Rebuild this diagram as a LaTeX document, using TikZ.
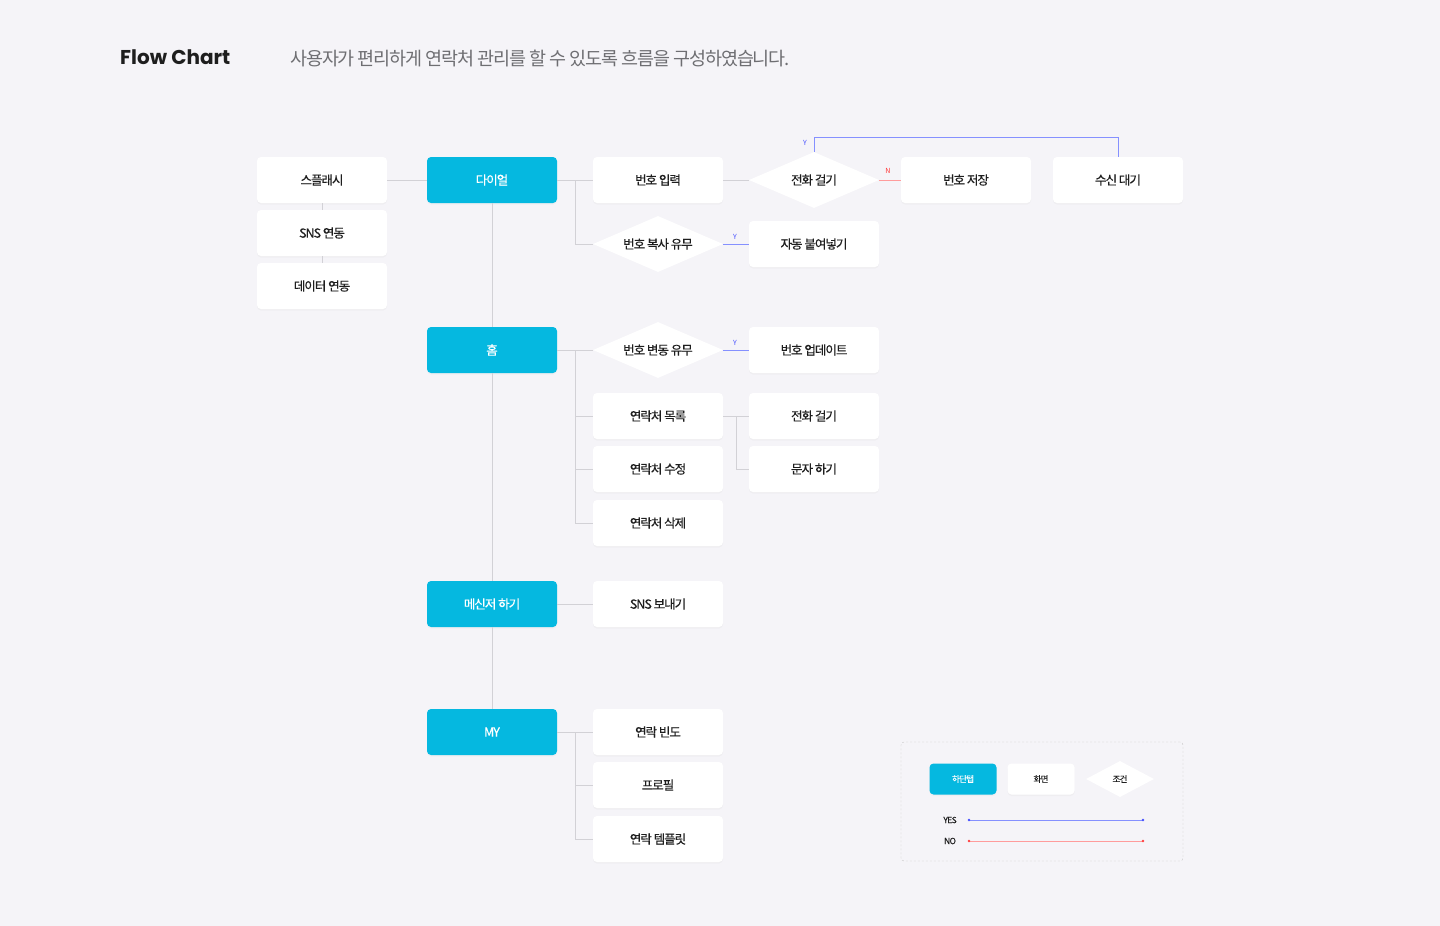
\documentclass[tikz,border=0pt]{standalone}
\usepackage{fontspec}
\setmainfont{Noto Sans CJK KR}[LetterSpace=-8]
\newfontfamily\medfont{Noto Sans CJK KR}[LetterSpace=-8, FakeBold=0.4]
\newfontfamily\subfont{Noto Sans CJK KR}[LetterSpace=-6]
\newfontfamily\titlefont{Poppins}
\usetikzlibrary{shapes.geometric,shadows}
\definecolor{bg}{HTML}{F5F4F8}
\definecolor{cyanb}{HTML}{05B8E0}
\definecolor{linegray}{HTML}{D2D1D6}
\definecolor{yesblue}{HTML}{8590FF}
\definecolor{nored}{HTML}{FF9C9C}
\definecolor{txt}{HTML}{1E1E1E}
\definecolor{subgray}{HTML}{6E6E72}
\definecolor{dotblue}{HTML}{4650FF}
\definecolor{dotred}{HTML}{FF4040}
\begin{document}
\begin{tikzpicture}[x=1pt,y=-1pt,
  boxfont/.style={font=\medfont\fontsize{12.5}{14}\selectfont},
  screen/.style={rectangle, rounded corners=4pt, fill=white, minimum width=130pt, minimum height=46pt, inner sep=0pt, boxfont, text=txt,
    drop shadow={opacity=0.05, shadow xshift=0pt, shadow yshift=-1.5pt}},
  tab/.style={screen, fill=cyanb, text=white},
  cond/.style={diamond, shape aspect=2.3, fill=white, minimum width=130pt, minimum height=56pt, inner sep=0pt, boxfont, text=txt},
  smallscreen/.style={screen, minimum width=67pt, minimum height=31pt, font=\medfont\fontsize{8.5}{10}\selectfont},
  smalltab/.style={smallscreen, fill=cyanb, text=white},
  smallcond/.style={cond, minimum width=68pt, minimum height=36pt, font=\medfont\fontsize{8.5}{10}\selectfont},
  link/.style={draw=linegray, line width=0.9pt},
  yesline/.style={draw=yesblue, line width=0.9pt},
  noline/.style={draw=nored, line width=0.9pt},
  lab/.style={font=\fontsize{7}{8}\selectfont, inner sep=0pt},
  legendtext/.style={font=\medfont\fontsize{8.5}{10}\selectfont, inner sep=0pt, text=txt}
]
\useasboundingbox (0,0) rectangle (1440,926);
\fill[bg] (0,0) rectangle (1440,926);

% title
\node[anchor=west, inner sep=0pt, text=txt, font=\titlefont\bfseries\fontsize{20}{24}\selectfont] (title) at (120,57) {Flow Chart};
\node[anchor=west, inner sep=0pt, text=subgray, font=\subfont\fontsize{18.5}{22}\selectfont] (sub) at (290,58) {사용자가 편리하게 연락처 관리를 할 수 있도록 흐름을 구성하였습니다.};

% left column
\node[screen] (splash) at (322,180) {스플래시};
\node[screen] (sns) at (322,233) {SNS 연동};
\node[screen] (data) at (322,286) {데이터 연동};

% tabs
\node[tab] (dial) at (492,180) {다이얼};
\node[tab] (home) at (492,350) {홈};
\node[tab] (msg) at (492,604) {메신저 하기};
\node[tab] (my) at (492,732) {MY};

% dial branch
\node[screen] (input) at (658,180) {번호 입력};
\node[cond] (call) at (814,180) {전화 걸기};
\node[screen] (save) at (966,180) {번호 저장};
\node[screen] (wait) at (1118,180) {수신 대기};
\node[cond] (copy) at (658,244) {번호 복사 유무};
\node[screen] (paste) at (814,244) {자동 붙여넣기};

% home branch
\node[cond] (change) at (658,350) {번호 변동 유무};
\node[screen] (update) at (814,350) {번호 업데이트};
\node[screen] (list) at (658,416) {연락처 목록};
\node[screen] (call2) at (814,416) {전화 걸기};
\node[screen] (edit) at (658,469) {연락처 수정};
\node[screen] (text) at (814,469) {문자 하기};
\node[screen] (del) at (658,523) {연락처 삭제};

% messenger
\node[screen] (snssend) at (658,604) {SNS 보내기};

% my
\node[screen] (freq) at (658,732) {연락 빈도};
\node[screen] (profile) at (658,785) {프로필};
\node[screen] (tmpl) at (658,839) {연락 템플릿};

% connectors
\draw[link] (splash.east) -- (dial.west);
\draw[link] (splash.south) -- (sns.north);
\draw[link] (sns.south) -- (data.north);
\draw[link] (dial.south) -- (home.north);
\draw[link] (home.south) -- (msg.north);
\draw[link] (msg.south) -- (my.north);

\coordinate (b1) at (575,180);
\draw[link] (dial.east) -- (input.west);
\draw[link] (b1) |- (copy.west);
\draw[link] (input.east) -- (call.west);
\draw[noline] (call.east) -- (save.west);
\node[lab, text=red!80] (nlab) at (888,171) {N};
\draw[yesline] (call.north) -- ++(0,-14) -| (wait.north);
\node[lab, text=dotblue] (ylab1) at (805,143) {Y};
\draw[yesline] (copy.east) -- (paste.west);
\node[lab, text=dotblue] (ylab2) at (735,237) {Y};

\coordinate (b2) at (575,350);
\draw[link] (home.east) -- (change.west);
\draw[link] (b2) |- (list.west);
\draw[link] (b2) |- (edit.west);
\draw[link] (b2) |- (del.west);
\draw[yesline] (change.east) -- (update.west);
\node[lab, text=dotblue] (ylab3) at (735,343) {Y};

\coordinate (b3) at (736,416);
\draw[link] (list.east) -- (call2.west);
\draw[link] (b3) |- (text.west);

\draw[link] (msg.east) -- (snssend.west);

\coordinate (b4) at (575,732);
\draw[link] (my.east) -- (freq.west);
\draw[link] (b4) |- (profile.west);
\draw[link] (b4) |- (tmpl.west);

% legend
\node[draw=black!22, dash pattern=on 2pt off 2pt, rounded corners=3pt, minimum width=282pt, minimum height=119pt, inner sep=0pt] (legend) at (1042,801.5) {};
\node[smalltab] (ltab) at (963,779) {하단탭};
\node[smallscreen] (lscreen) at (1041,779) {화면};
\node[smallcond] (lcond) at (1120,779) {조건};
\node[legendtext] (yes) at (950,820) {YES};
\node[legendtext] (no) at (950,841) {NO};
\coordinate (ys) at (969,820);
\coordinate (ye) at (1143,820);
\coordinate (ns) at (969,841);
\coordinate (ne) at (1143,841);
\draw[yesline] (ys) -- (ye);
\draw[noline] (ns) -- (ne);
\fill[dotblue] (ys) circle (1.3pt) (ye) circle (1.3pt);
\fill[dotred] (ns) circle (1.3pt) (ne) circle (1.3pt);
\end{tikzpicture}
\end{document}
